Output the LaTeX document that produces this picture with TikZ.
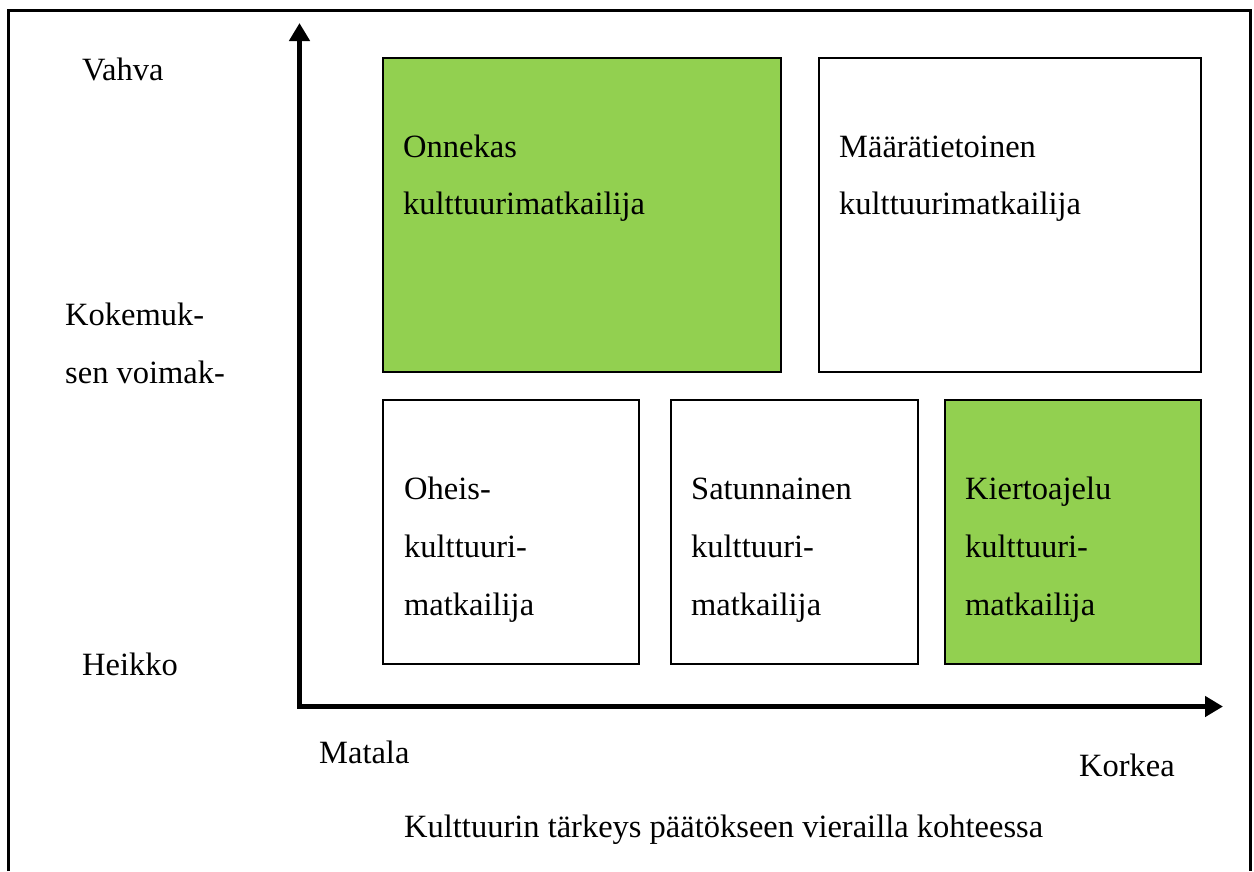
\documentclass[tikz,border=0pt]{standalone}
\usepackage{fontspec}
\setmainfont{Liberation Serif}
\usetikzlibrary{arrows.meta}
\definecolor{boxgreen}{HTML}{92D050}
\tikzset{
  quad/.style={draw=black, line width=1.8pt, rectangle, anchor=north west, inner sep=0pt},
  greenquad/.style={quad, fill=boxgreen},
  whitequad/.style={quad, fill=white},
  lbl/.style={anchor=base west, inner sep=0pt, font=\fontsize{32.5}{40}\selectfont},
  axisline/.style={line width=5pt, {Triangle[length=18pt,width=20pt]}-{Triangle[length=18pt,width=20pt]}},
}
\begin{document}
\begin{tikzpicture}[x=1pt, y=-1pt]
\useasboundingbox (0,0) rectangle (1254,871);
% outer frame (open at bottom)
\draw[line width=3pt] (8,871) -- (8,10) -- (1250,10) -- (1250,871);

% boxes
\node[greenquad, minimum width=398pt, minimum height=314pt] (onnekas) at (382,57) {};
\node[whitequad, minimum width=382pt, minimum height=314pt] (maara) at (818,57) {};
\node[whitequad, minimum width=256pt, minimum height=264pt] (oheis) at (382,399) {};
\node[whitequad, minimum width=247pt, minimum height=264pt] (satun) at (670,399) {};
\node[greenquad, minimum width=256pt, minimum height=264pt] (kierto) at (944,399) {};

% box texts
\node[lbl] (t1a) at (403,157) {Onnekas};
\node[lbl] (t1b) at (403,214) {kulttuurimatkailija};
\node[lbl] (t2a) at (839,157) {Määrätietoinen};
\node[lbl] (t2b) at (839,214) {kulttuurimatkailija};
\node[lbl] (t3a) at (404,499) {Oheis-};
\node[lbl] (t3b) at (404,557) {kulttuuri-};
\node[lbl] (t3c) at (404,615) {matkailija};
\node[lbl] (t4a) at (691,499) {Satunnainen};
\node[lbl] (t4b) at (691,557) {kulttuuri-};
\node[lbl] (t4c) at (691,615) {matkailija};
\node[lbl] (t5a) at (965,499) {Kiertoajelu};
\node[lbl] (t5b) at (965,557) {kulttuuri-};
\node[lbl] (t5c) at (965,615) {matkailija};

% axes
\coordinate (ytop) at (299.5,23);
\coordinate (orig) at (299.5,706.5);
\coordinate (xend) at (1223,706.5);
\draw[axisline] (ytop) -- (orig) -- (xend);

% axis labels
\node[lbl] (vahva) at (82,80) {Vahva};
\node[lbl] (koke1) at (65,325) {Kokemuk-};
\node[lbl] (koke2) at (65,383) {sen voimak-};
\node[lbl] (heikko) at (82,675) {Heikko};
\node[lbl] (matala) at (319,763) {Matala};
\node[lbl] (korkea) at (1079,776) {Korkea};
\node[lbl] (title) at (404,837) {Kulttuurin tärkeys päätökseen vierailla kohteessa};
\end{tikzpicture}
\end{document}
